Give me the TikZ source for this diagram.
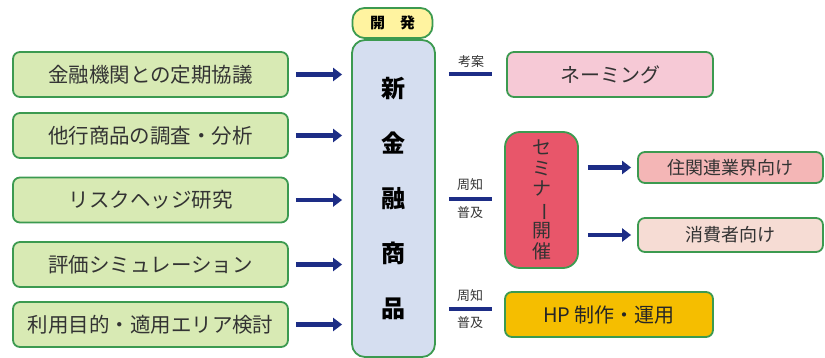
\documentclass[tikz,border=0pt]{standalone}
\usepackage{fontspec}
\setmainfont{Noto Sans CJK JP}
\usetikzlibrary{arrows.meta}
\definecolor{gfill}{HTML}{D8EAB4}
\definecolor{gline}{HTML}{3C9A50}
\definecolor{bfill}{HTML}{D5DEF0}
\definecolor{yfill}{HTML}{FFF3A0}
\definecolor{pfill}{HTML}{F6C9D6}
\definecolor{rfill}{HTML}{E8566A}
\definecolor{sfill}{HTML}{F4B6B6}
\definecolor{cfill}{HTML}{F6DCD4}
\definecolor{hfill}{HTML}{F5BE00}
\definecolor{navy}{HTML}{1D2D86}
\definecolor{txt}{HTML}{333333}
\tikzset{
  box/.style={draw=gline, line width=1.8pt, rounded corners=7pt, text=txt, inner sep=0pt},
  lbox/.style={box, fill=gfill, minimum width=275pt, minimum height=45pt, font=\fontsize{20.5}{20.5}\selectfont},
  arr/.style={navy, line width=4.5pt, -{Triangle[length=9pt,width=13pt]}},
  lnk/.style={navy, line width=4pt},
  small/.style={text=txt, font=\fontsize{13}{13}\selectfont, inner sep=0pt},
}
\begin{document}
\begin{tikzpicture}[x=1pt,y=-1pt]
\useasboundingbox (0,0) rectangle (825,358);
% left boxes
\node[lbox] (b1) at (150.5,74.5) {金融機関との定期協議};
\node[lbox] (b2) at (150.5,135.5) {他行商品の調査・分析};
\node[lbox] (b3) at (150.5,200) {リスクヘッジ研究};
\node[lbox] (b4) at (150.5,264.5) {評価シミュレーション};
\node[lbox] (b5) at (150.5,324.5) {利用目的・適用エリア検討};
% central
\node[box, fill=bfill, rounded corners=13pt, minimum width=83pt, minimum height=317pt,
  align=center, font=\fontsize{24}{55}\selectfont\bfseries, text=black] (dev) at (393.5,198.5)
  {新\\金\\融\\商\\品};
\node[box, fill=yfill, rounded corners=12pt, minimum width=80pt, minimum height=30pt,
  font=\fontsize{15}{15}\selectfont\bfseries, text=black] (lab) at (392.5,23) {開\hspace{1em}発};
% arrows left
\foreach \b in {b1,b2,b3,b4,b5}
  \draw[arr, shorten <=7pt, shorten >=9pt] (\b.east) -- (\b.east -| dev.west);
% right side
\node[box, fill=pfill, minimum width=206pt, minimum height=45pt, font=\fontsize{20}{20}\selectfont] (nm) at (610,74.5) {ネーミング};
\node[box, fill=rfill, rounded corners=15pt, minimum width=73pt, minimum height=136pt,
  align=center, font=\fontsize{19}{20.5}\selectfont] (sem) at (541.5,200)
  {セ\\ミ\\ナ\\\rotatebox[origin=c]{-90}{ー}\\開\\催};
\node[box, fill=hfill, minimum width=208pt, minimum height=45pt, font=\fontsize{20}{20}\selectfont, text=black!85] (hp) at (609,314.5) {HP 制作・運用};
\node[box, fill=sfill, minimum width=185pt, minimum height=31pt, font=\fontsize{18}{18}\selectfont] (s1) at (730.5,167.5) {住関連業界向け};
\node[box, fill=cfill, minimum width=185pt, minimum height=34pt, font=\fontsize{18}{18}\selectfont] (s2) at (730.5,235) {消費者向け};
% links
\draw[lnk, shorten <=13pt, shorten >=14pt] (nm.west -| dev.east) -- coordinate (m1) (nm.west);
\node[small] at ([yshift=13pt]m1) {考案};
\draw[lnk, shorten <=13pt, shorten >=12pt] (dev.east |- 0,199) -- coordinate (m2) (sem.west |- 0,199);
\node[small] at ([yshift=14pt]m2) {周知};
\node[small] at ([yshift=-14pt]m2) {普及};
\draw[lnk, shorten <=13pt, shorten >=12pt] (dev.east |- 0,309) -- coordinate (m3) (hp.west |- 0,309);
\node[small] at ([yshift=13pt]m3) {周知};
\node[small] at ([yshift=-14pt]m3) {普及};
\draw[arr, shorten <=9pt, shorten >=6pt] (s1.west -| sem.east) -- (s1.west);
\draw[arr, shorten <=9pt, shorten >=6pt] (s2.west -| sem.east) -- (s2.west);
\end{tikzpicture}
\end{document}
